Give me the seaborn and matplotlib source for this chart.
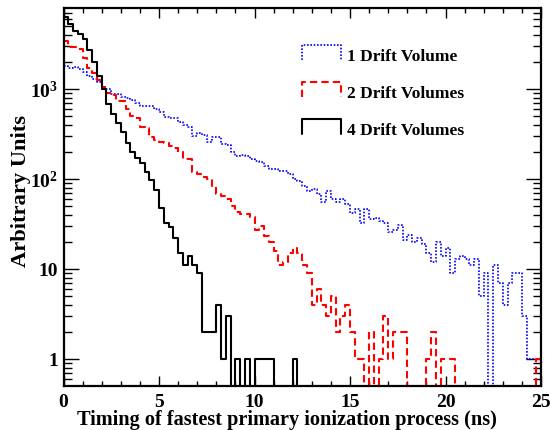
import numpy as np
import matplotlib
matplotlib.use("Agg")
import matplotlib.pyplot as plt
import seaborn as sns
from matplotlib.lines import Line2D
from matplotlib.legend_handler import HandlerBase
from matplotlib.ticker import MultipleLocator, LogLocator, NullFormatter, FuncFormatter

# 100 bins of 0.25 ns between 0 and 25 ns
bin_edges = [i * 0.25 for i in range(101)]
bin_centers = [e + 0.125 for e in bin_edges[:-1]]

labels = ['1 Drift Volume', '2 Drift Volumes', '4 Drift Volumes']

one_volume = [
    1800, 1700, 1750, 1650, 1530, 1400, 1300, 1200, 1050, 1000,
    880, 880, 810, 800, 760, 700, 650, 650, 640, 600,
    560, 490, 480, 470, 425, 400, 380, 300, 320, 310,
    260, 290, 290, 245, 235, 200, 180, 185, 180, 165,
    160, 155, 140, 130, 130, 123, 122, 114, 100, 95,
    84, 74, 77, 68, 55, 74, 60, 55, 60, 52,
    42, 46, 32, 46, 36, 37, 34, 32, 26, 27,
    31, 21, 24, 20, 22, 19, 15, 12, 20, 14,
    17, 9, 13, 14, 13, 11, 13, 5, 9, 0,
    11, 7, 4, 7, 9, 9, 3, 1, 1, 1,
]

two_volumes = [
    3400, 2900, 2900, 2800, 2200, 1700, 1500, 1250, 1050, 900,
    860, 740, 730, 600, 500, 480, 380, 370, 290, 270,
    260, 250, 230, 220, 200, 167, 165, 120, 114, 105,
    100, 83, 68, 65, 60, 50, 43, 41, 41, 38,
    27, 30, 23, 20, 16, 11, 12, 15, 17, 15,
    11, 9, 4, 6, 4, 3, 5, 2, 3, 4,
    2, 1, 1, 0, 2, 0, 1, 3, 1, 2,
    2, 2, 0, 0, 0, 0, 1, 2, 0, 1,
    1, 1, 0, 0, 0, 0, 0, 0, 0, 0,
    0, 0, 0, 0, 0, 0, 0, 0, 0, 1,
]

four_volumes = [
    6200, 5200, 4400, 4100, 3600, 2700, 2000, 1400, 1000, 680,
    520, 420, 330, 250, 200, 170, 150, 120, 96, 75,
    48, 32, 29, 22, 15, 11, 14, 11, 9, 2,
    2, 2, 4, 1, 3, 0, 1, 0, 1, 0,
    1, 1, 1, 1, 0, 0, 0, 0, 1, 0,
    0, 0, 0, 0, 0, 0, 0, 0, 0, 0,
    0, 0, 0, 0, 0, 0, 0, 0, 0, 0,
    0, 0, 0, 0, 0, 0, 0, 0, 0, 0,
    0, 0, 0, 0, 0, 0, 0, 0, 0, 0,
    0, 0, 0, 0, 0, 0, 0, 0, 0, 0,
]

sns.set_style("ticks")
plt.rcParams.update({
    'font.family': ['Liberation Serif', 'DejaVu Serif'],
    'font.weight': 'bold',
    'axes.labelweight': 'bold',
    'text.color': 'black',
    'axes.labelcolor': 'black',
    'xtick.color': 'black',
    'ytick.color': 'black',
    'mathtext.fontset': 'custom',
    'mathtext.rm': 'Liberation Serif:bold',
    'mathtext.bf': 'Liberation Serif:bold',
    'mathtext.it': 'Liberation Serif:bold',
})


class HistBoxHandler(HandlerBase):
    # legend glyph like ROOT: open box (top + sides)
    def create_artists(self, legend, orig_handle, xdescent, ydescent,
                       width, height, fontsize, trans):
        top = 0.87 * fontsize
        x0, x1 = -xdescent, width - xdescent
        box = Line2D([x0, x0, x1, x1], [0, top, top, 0])
        box.update_from(orig_handle)
        box.set_drawstyle('default')
        box.set_transform(trans)
        return [box]


# axes frame in pixels: left 63.5, right 541, top 9, bottom 386.7
H = 386.7 - 9
fig = plt.figure(figsize=(5.5, 4.31), dpi=100)
ax = fig.add_axes([63.5 / 550, 1 - 386.7 / 431, 477.5 / 550, H / 431])

styles = [
    ('#0000ff', (0, (1, 1)), 1.2),
    ('#ff0000', (0, (3.5, 2)), 1.5),
    ('black', '-', 1.5),
]
for counts, label, (color, ls, lw) in zip([one_volume, two_volumes, four_volumes], labels, styles):
    sns.histplot(x=bin_centers, weights=counts, bins=bin_edges, element='step',
                 fill=False, color=color, linestyle=ls, linewidth=lw, ax=ax)
    ax.lines[-1].set_label(label)

ax.set_yscale('log')
ax.set_xlim(0, 25)
ax.set_ylim(0.505, 7900)

ax.xaxis.set_major_locator(MultipleLocator(5))
ax.xaxis.set_minor_locator(MultipleLocator(1))
ax.yaxis.set_major_locator(LogLocator(base=10))
ax.yaxis.set_minor_locator(LogLocator(base=10, subs=np.arange(2, 10)))
ax.yaxis.set_minor_formatter(NullFormatter())


def log_label(v, pos):
    if v < 5:
        return '1'
    if v < 50:
        return '10'
    return r'$10^{%d}$' % round(np.log10(v))


ax.yaxis.set_major_formatter(FuncFormatter(log_label))
ax.tick_params(which='both', direction='in', top=True, right=True, width=1.0, color='black')
ax.tick_params(axis='x', which='major', length=7.5, labelsize=14, pad=5)
ax.tick_params(axis='x', which='minor', length=3.7)
ax.tick_params(axis='y', which='major', length=11, labelsize=14, pad=4)
ax.tick_params(axis='y', which='minor', length=5.5)
for sp in ax.spines.values():
    sp.set_linewidth(1.6)
    sp.set_color('black')

ax.set_xlabel('Timing of fastest primary ionization process (ns)', fontsize=14.6)
ax.xaxis.label.set_verticalalignment('baseline')
ax.xaxis.set_label_coords((287 - 63.5) / 477.5, (386.7 - 425) / H)
ax.set_ylabel('Arbitrary Units', fontsize=16.2)
ax.yaxis.label.set_verticalalignment('center')
ax.yaxis.set_label_coords((21 - 63.5) / 477.5, (386.7 - 191) / H)

ax.legend(handles=ax.lines[:3], handler_map={Line2D: HistBoxHandler()},
          loc='upper left', bbox_to_anchor=((302 - 63.5) / 477.5, (386.7 - 49) / H),
          frameon=False, fontsize=12.5, borderpad=0, borderaxespad=0,
          handlelength=2.24, handletextpad=0.33, labelspacing=1.2)

fig.savefig('out.png', dpi=100)
